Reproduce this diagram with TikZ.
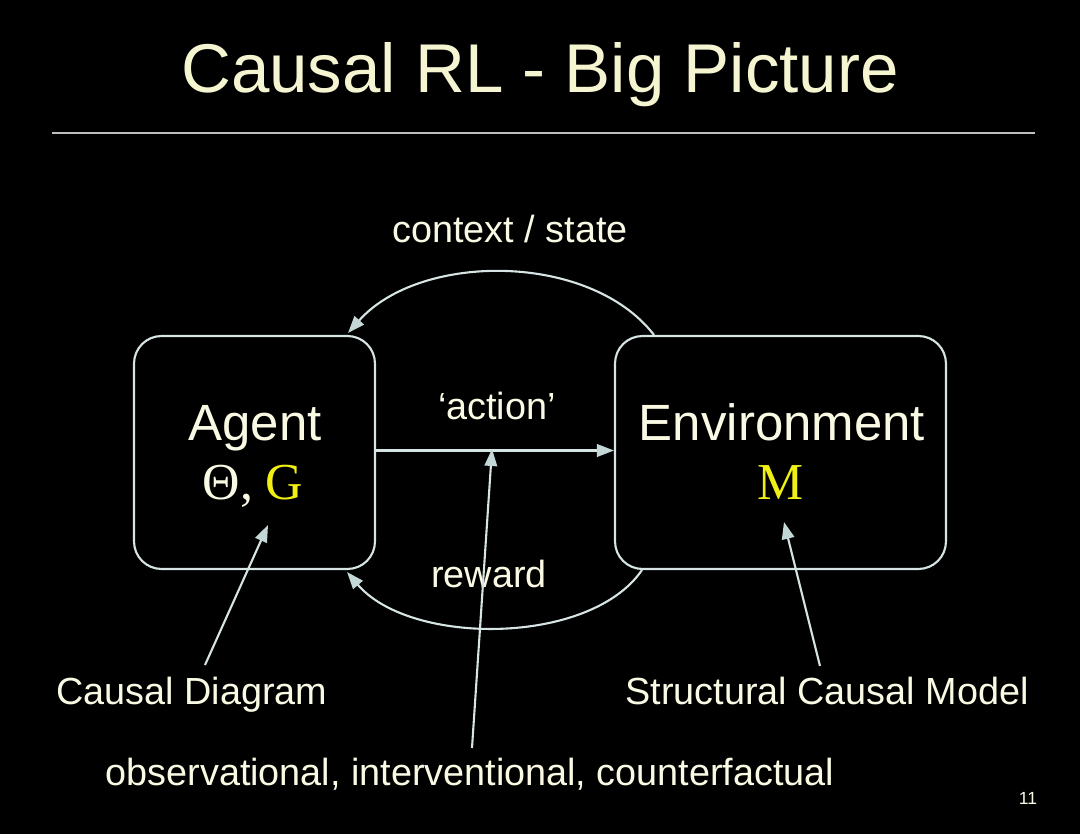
\documentclass[tikz,border=0pt]{standalone}
\usepackage{fontspec}
\setmainfont{Liberation Sans}
\newfontfamily\seriffont{Liberation Serif}
\usetikzlibrary{arrows.meta,calc}
\definecolor{txt}{RGB}{250,250,228}
\definecolor{ttl}{RGB}{245,245,210}
\definecolor{ln}{RGB}{215,228,228}
\definecolor{tipc}{RGB}{195,215,215}
\definecolor{yel}{RGB}{240,240,20}
\definecolor{rulec}{RGB}{190,190,190}
\begin{document}
\begin{tikzpicture}[x=0.02cm,y=-0.02cm,
  box/.style={draw=ln,line width=1.2pt,rounded corners=0.55cm,minimum height=4.66cm,inner sep=0pt},
  lbl/.style={text=txt,font=\fontsize{21.5}{24}\selectfont,anchor=base,inner sep=0pt},
  big/.style={text=txt,font=\fontsize{29}{32}\selectfont,anchor=base,inner sep=0pt},
  sym/.style={text=txt,font=\seriffont\fontsize{29.5}{32}\selectfont,anchor=base,inner sep=0pt},
  arr/.style={draw=ln,line width=1.2pt,-{Triangle[length=0.34cm,width=0.25cm,color=tipc]}},
]
\fill[black] (0,0) rectangle (1080,834);
\useasboundingbox (0,0) rectangle (1080,834);

% title and rule
\node[text=ttl,font=\fontsize{39.3}{44}\selectfont,anchor=base,inner sep=0pt] (title) at (540,93) {Causal RL - Big Picture};
\coordinate (rl) at (52,133);
\coordinate (rr) at (1035,133);
\draw[rulec,line width=0.6pt] (rl) -- (rr);

% boxes
\node[box,minimum width=4.82cm] (agent) at (254.5,452.5) {};
\node[box,minimum width=6.62cm] (env) at (780.5,452.5) {};

% box texts
\node[big] (agentlbl) at (255,441) {Agent};
\node[sym] (agentsym) at (253,500) {Θ, \textcolor{yel}{G}};
\node[big] (envlbl) at (782,441) {Environment};
\node[sym] (envsym) at (781,500) {\textcolor{yel}{M}};

% labels
\node[lbl] (ctx) at (510,243) {context / state};
\node[lbl] (act) at (497,420) {‘action’};
\node[lbl] (rew) at (489,588) {reward};
\node[lbl] (cd) at (192,705) {Causal Diagram};
\node[lbl] (scm) at (827,705) {Structural Causal Model};
\node[lbl] (obs) at (470,786) {observational, interventional, counterfactual};
\node[text=txt,font=\fontsize{10}{12}\selectfont,anchor=base,inner sep=0pt] (pg) at (1028,805) {11};

% loop connectors
\draw[arr] ($(env.north west)+(40,0)$) .. controls (590,252) and (420,252) .. ($(agent.north east)+(-28,-2)$);
\draw[arr] ($(agent.east)+(0,-2)$) -- ($(env.west)+(0,-2)$);
\draw[arr] ($(env.south west)+(28,0)$) .. controls (590,646) and (410,646) .. ($(agent.south east)+(-29,2)$);

% pointer connectors
\coordinate (cdtail) at (205,665);
\coordinate (cdtip) at (268,525);
\draw[arr] (cdtail) -- (cdtip);
\coordinate (obstail) at (472,748);
\coordinate (obstip) at (492,449);
\draw[arr] (obstail) -- (obstip);
\coordinate (scmtail) at (820,666);
\coordinate (scmtip) at (784,522);
\draw[arr] (scmtail) -- (scmtip);
\end{tikzpicture}
\end{document}
